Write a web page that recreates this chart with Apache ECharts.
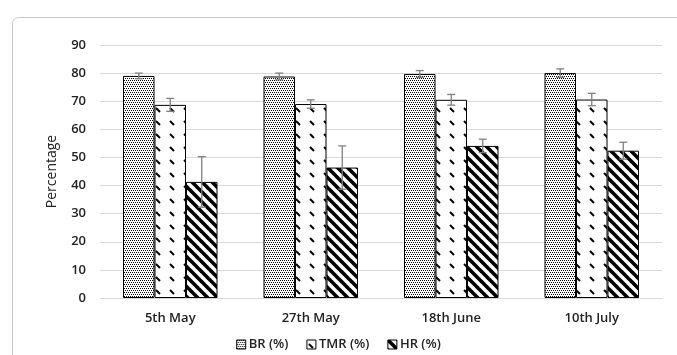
<!DOCTYPE html>
<html>
<head>
<meta charset="utf-8">
<script src="https://cdn.jsdelivr.net/npm/echarts@6/dist/echarts.min.js"></script>
<style>html,body{margin:0;padding:0;background:#fff;}#c{width:677px;height:355px;}</style>
</head>
<body>
<div id="c"></div>
<script>
var categories = ['5th May', '27th May', '18th June', '10th July'];
var seriesNames = ['BR (%)', 'TMR (%)', 'HR (%)'];
var brValues = [79.0, 78.8, 79.7, 80.0];
var tmrValues = [68.7, 69.0, 70.5, 70.6];
var hrValues = [41.3, 46.4, 54.1, 52.4];
var brErr = [1.0, 1.2, 1.2, 1.5];
var tmrErr = [2.3, 1.5, 1.9, 2.2];
var hrErr = [9.0, 7.7, 2.4, 3.0];
var yTicks = [0, 10, 20, 30, 40, 50, 60, 70, 80, 90];

function makeCanvas(w, h, draw) {
  var c = document.createElement('canvas');
  c.width = w; c.height = h;
  var ctx = c.getContext('2d');
  ctx.fillStyle = '#fff'; ctx.fillRect(0, 0, w, h);
  draw(ctx);
  return c;
}
var dotPat = makeCanvas(4, 4, function (ctx) {
  ctx.fillStyle = '#000';
  ctx.fillRect(0, 0, 1, 1); ctx.fillRect(2, 0, 1, 1);
  ctx.fillRect(1, 2, 1, 1); ctx.fillRect(3, 2, 1, 1);
});
var dashPat = makeCanvas(14, 13, function (ctx) {
  ctx.strokeStyle = '#000'; ctx.lineWidth = 2;
  ctx.beginPath(); ctx.moveTo(2, 4); ctx.lineTo(6, 8); ctx.stroke();
});
var stripePat = makeCanvas(10, 10, function (ctx) {
  ctx.strokeStyle = '#000'; ctx.lineWidth = 3.6;
  for (var o = -10; o <= 10; o += 10) {
    ctx.beginPath(); ctx.moveTo(o - 2, -2); ctx.lineTo(o + 12, 12); ctx.stroke();
  }
});
var patterns = [
  { image: dotPat, repeat: 'repeat' },
  { image: dashPat, repeat: 'repeat' },
  { image: stripePat, repeat: 'repeat' }
];
var values = [brValues, tmrValues, hrValues];
var errs = [brErr, tmrErr, hrErr];
var BW = 31.5;

var series = [];
for (var s = 0; s < 3; s++) {
  series.push({
    name: seriesNames[s], type: 'bar', data: values[s], barWidth: BW, barGap: '0%',
    itemStyle: { color: patterns[s], borderColor: '#000', borderWidth: 1 }
  });
}
for (var s2 = 0; s2 < 3; s2++) {
  (function (si) {
    series.push({
      type: 'custom', silent: true, z: 5,
      data: categories.map(function (c, i) { return [i, values[si][i], errs[si][i]]; }),
      renderItem: function (params, api) {
        var i = api.value(0), v = api.value(1), e = api.value(2);
        var top = api.coord([i, v + e]);
        var bot = api.coord([i, v - e]);
        var x = top[0] + (si - 1) * BW;
        var cap = 4;
        var st = { stroke: '#808080', lineWidth: 1.3 };
        return { type: 'group', children: [
          { type: 'line', shape: { x1: x, y1: top[1], x2: x, y2: bot[1] }, style: st },
          { type: 'line', shape: { x1: x - cap, y1: top[1], x2: x + cap, y2: top[1] }, style: st },
          { type: 'line', shape: { x1: x - cap, y1: bot[1], x2: x + cap, y2: bot[1] }, style: st }
        ]};
      }
    });
  })(s2);
}

var chart = echarts.init(document.getElementById('c'), null, { renderer: 'canvas' });
chart.setOption({
  animation: false,
  backgroundColor: '#fff',
  textStyle: { fontFamily: 'Open Sans' },
  graphic: [{
    type: 'rect', shape: { x: 12.5, y: 17.5, width: 700, height: 400, r: 6 },
    style: { fill: 'none', stroke: '#c8c8c8', lineWidth: 1 }, silent: true
  }],
  grid: { left: 100, right: 15, top: 45, bottom: 57, containLabel: false },
  legend: {
    data: seriesNames, bottom: -1, left: 'center', itemWidth: 9, itemHeight: 9, itemGap: 18,
    icon: 'rect',
    itemStyle: { borderColor: '#000', borderWidth: 1 },
    textStyle: { fontSize: 13, color: '#222', fontWeight: 600, padding: [0, 0, 0, -2] }
  },
  xAxis: {
    type: 'category', data: categories,
    axisLine: { lineStyle: { color: '#d9d9d9', width: 1 } },
    axisTick: { show: false },
    axisLabel: { fontSize: 13, color: '#222', fontWeight: 600, margin: 14 }
  },
  yAxis: {
    type: 'value', min: 0, max: 90, interval: 10,
    name: 'Percentage', nameLocation: 'middle', nameGap: 41, nameRotate: 90,
    nameTextStyle: { fontSize: 14, color: '#222' },
    axisLine: { show: false }, axisTick: { show: false },
    splitLine: { lineStyle: { color: '#d9d9d9' } },
    axisLabel: { fontSize: 13, color: '#222', fontWeight: 600, margin: 14,
      formatter: function (v) { return yTicks.indexOf(v) >= 0 ? String(v) : ''; } }
  },
  series: series
});
</script>
</body>
</html>
